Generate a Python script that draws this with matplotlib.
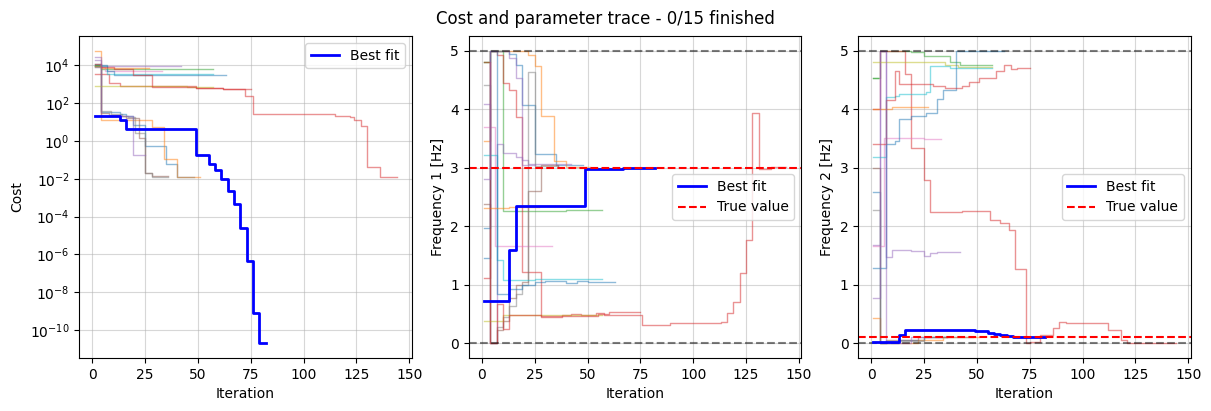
import matplotlib
matplotlib.use("Agg")
import matplotlib.pyplot as plt

# ---------------- data ----------------
n_runs = 15
n_finished = 0

# per-run step traces (iteration breakpoints and values), runs 0..14
cost_iters = [
    [1, 4, 13, 16, 19, 25, 35, 40, 48],
    [1, 4, 22, 28, 34, 40, 51],
    [1, 4, 10, 57],
    [1, 8, 13, 49, 62, 72, 76, 88, 115, 122, 124, 127, 130, 136, 144],
    [1, 4, 42],
    [1, 4, 8, 13, 16, 22, 25, 28, 36],
    [1, 6, 33],
    [1, 4, 9, 14, 17, 20, 25, 28, 36],
    [1, 10, 30, 45, 57],
    [1, 7, 57],
    [1, 7, 10, 63],
    [1, 4, 27],
    [1, 3],
    [1, 4, 10, 19, 28, 49, 62, 75],
    [1, 4, 19, 25],
]
cost_vals = [
    [1.1e4, 32, 28, 20, 7.2, 0.54, 0.06, 0.012, 0.012],
    [5.9e4, 13, 12.5, 5.5, 0.11, 0.012, 0.012],
    [9500, 6500, 6200, 6200],
    [3300, 1200, 800, 600, 525, 235, 28, 26, 22, 18, 12.6, 5.9, 0.04, 0.0126, 0.0126],
    [2.6e4, 9000, 9000],
    [9000, 30, 24.5, 20, 16.6, 1.4, 0.021, 0.014, 0.014],
    [8000, 4800, 4800],
    [8500, 37, 27, 22, 19, 2.5, 0.02, 0.013, 0.013],
    [830, 800, 780, 750, 740],
    [9000, 3300, 3300],
    [1.05e4, 5000, 3200, 3200],
    [9500, 7000, 7000],
    [1.0e4, 1.0e4],
    [1.2e4, 8500, 6500, 3200, 700, 630, 560, 560],
    [2.0e4, 22, 0.18, 0.18],
]

f1_iters = [
    [1, 4, 13, 16, 19, 25, 35, 48],
    [1, 4, 22, 25, 28, 34, 40, 51],
    [1, 4, 10, 40, 57],
    [1, 4, 7, 10, 13, 16, 19, 28, 38, 42, 47, 54, 58, 76, 89, 110, 113, 116, 119,
     122, 125, 128, 131, 137, 144],
    [1, 4, 7, 10, 16, 19, 22, 42],
    [1, 4, 7, 10, 13, 16, 19, 22, 28, 36],
    [1, 6, 33],
    [1, 4, 7, 10, 13, 16, 19, 22, 25, 36],
    [1, 10, 57],
    [1, 7, 10, 25, 57],
    [1, 4, 7, 13, 19, 25, 30, 40, 45, 50, 63],
    [1, 13, 27],
    [1, 3],
    [1, 4, 7, 10, 13, 28, 55, 60, 75],
    [1, 4, 13, 16, 19, 25],
]
f1_vals = [
    [1.45, 5.0, 4.95, 4.76, 4.07, 3.24, 3.05, 3.05],
    [3.45, 5.0, 4.93, 4.73, 3.89, 3.12, 3.01, 3.01],
    [4.8, 5.0, 2.26, 2.27, 2.27],
    [1.12, 5.0, 4.93, 4.44, 4.32, 3.87, 1.22, 0.45, 0.48, 0.5, 0.49, 0.52, 0.49,
     0.31, 0.34, 0.35, 0.37, 0.51, 0.71, 1.21, 1.76, 3.94, 2.98, 3.02, 3.02],
    [4.09, 0.0, 3.41, 3.25, 3.19, 3.13, 3.06, 3.06],
    [2.38, 0.0, 0.22, 0.38, 0.78, 1.0, 1.05, 2.6, 3.04, 3.03],
    [3.70, 1.66, 1.66],
    [4.41, 0.0, 0.28, 0.45, 0.64, 0.85, 1.0, 4.63, 3.03, 3.03],
    [0.38, 0.48, 0.48],
    [3.22, 1.43, 1.09, 1.1, 1.1],
    [1.97, 5.0, 0.85, 0.93, 0.99, 1.04, 1.07, 1.03, 1.07, 1.05, 1.05],
    [2.31, 2.33, 2.33],
    [4.8, 4.8],
    [4.8, 0.0, 0.67, 0.25, 0.48, 0.46, 0.5, 0.53, 0.53],
    [2.81, 5.0, 4.87, 4.53, 3.05, 3.05],
]

f2_iters = [
    [1, 4, 13, 25, 48],
    [1, 4, 22, 34, 51],
    [1, 4, 19, 25, 37, 42, 57],
    [1, 4, 16, 19, 25, 28, 43, 56, 61, 65, 68, 73, 75, 80, 86, 89, 92, 95, 112,
     118, 121, 144],
    [1, 4, 7, 10, 19, 25, 28, 31, 42],
    [1, 4, 7, 22, 36],
    [1, 6, 25, 33],
    [1, 4, 7, 25, 36],
    [1, 35, 41, 57],
    [1, 7, 11, 13, 26, 28, 37, 57],
    [1, 7, 11, 13, 19, 26, 31, 34, 40, 63],
    [1, 10, 27],
    [1, 3],
    [1, 7, 11, 13, 29, 35, 43, 46, 51, 59, 63, 66, 69, 75],
    [1, 4, 7, 19, 25],
]
f2_vals = [
    [2.58, 0.0, 0.05, 0.1, 0.1],
    [0.44, 0.0, 0.05, 0.1, 0.1],
    [4.53, 5.0, 4.98, 4.9, 4.81, 4.76, 4.76],
    [4.0, 5.0, 4.6, 3.34, 2.79, 2.24, 2.26, 2.1, 2.06, 1.93, 1.27, 0.0, 0.03,
     0.15, 0.27, 0.36, 0.34, 0.35, 0.22, 0.05, 0.0, 0.0],
    [1.68, 5.0, 1.47, 1.6, 1.58, 1.5, 1.54, 1.56, 1.56],
    [2.99, 0.0, 0.05, 0.1, 0.1],
    [1.66, 3.5, 3.49, 3.49],
    [2.27, 0.0, 0.04, 0.1, 0.1],
    [4.81, 4.76, 4.72, 4.72],
    [3.19, 4.2, 4.23, 4.26, 4.3, 4.73, 4.71, 4.71],
    [1.29, 3.41, 3.45, 3.83, 3.89, 3.94, 4.17, 4.33, 5.0, 5.0],
    [4.0, 4.03, 4.03],
    [4.53, 4.53],
    [3.41, 4.16, 4.65, 4.43, 4.39, 4.36, 4.39, 4.46, 4.54, 4.66, 4.75, 4.69, 4.7, 4.7],
    [0.78, 5.0, 0.0, 0.1, 0.1],
]

# best fit trace
best_iters = [1, 13, 16, 49, 55, 58, 61, 64, 67, 70, 73, 76, 79, 82]
best_cost = [20, 13.5, 4.3, 0.18, 0.062, 0.03, 0.0093, 0.0023, 4.4e-4, 2.4e-5,
             4.4e-7, 7.9e-10, 2.0e-11, 2.0e-11]
best_f1 = [0.73, 1.60, 2.34, 2.98, 2.98, 2.98, 2.98, 2.98, 3.0, 3.0, 3.0, 3.0, 3.0, 3.0]
best_f2 = [0.03, 0.14, 0.23, 0.205, 0.18, 0.16, 0.14, 0.13, 0.10, 0.10, 0.10,
           0.10, 0.10, 0.10]

true_f1 = 3.0
true_f2 = 0.115
bounds = [0.0, 5.0]

# ---------------- plot ----------------
fig, axes = plt.subplots(1, 3, figsize=(12.11, 4.11), dpi=100)
fig.subplots_adjust(left=0.0656, right=0.9832, top=0.9124, bottom=0.129, wspace=0.172)
ax_c, ax_1, ax_2 = axes

for i in range(n_runs):
    col = f"C{i % 10}"
    ax_c.plot(cost_iters[i], cost_vals[i], drawstyle="steps-post", color=col, alpha=0.5, lw=1)
    ax_1.plot(f1_iters[i], f1_vals[i], drawstyle="steps-post", color=col, alpha=0.5, lw=1)
    ax_2.plot(f2_iters[i], f2_vals[i], drawstyle="steps-post", color=col, alpha=0.5, lw=1)

ax_c.plot(best_iters, best_cost, drawstyle="steps-post", color="b", lw=2, label="Best fit")
ax_c.set_yscale("log")
ax_c.set_ylabel("Cost")
ax_c.set_xlabel("Iteration")
ax_c.grid(True, alpha=0.5)
ax_c.legend(loc="upper right")

for ax, bf, tv, lab in [(ax_1, best_f1, true_f1, "Frequency 1 [Hz]"),
                        (ax_2, best_f2, true_f2, "Frequency 2 [Hz]")]:
    for b in bounds:
        ax.axhline(b, color="k", ls="--", alpha=0.5, lw=1.5)
    ax.plot(best_iters, bf, drawstyle="steps-post", color="b", lw=2, label="Best fit")
    ax.axhline(tv, color="r", ls="--", lw=1.5, label="True value")
    ax.set_ylabel(lab)
    ax.set_xlabel("Iteration")
    ax.grid(True, alpha=0.5)
    ax.legend(loc="center right")

for ax in axes:
    ax.set_xticks([0, 25, 50, 75, 100, 125, 150])

fig.suptitle(f"Cost and parameter trace - {n_finished}/{n_runs} finished", fontsize=12, y=0.975)
fig.savefig("out.png", dpi=100)
